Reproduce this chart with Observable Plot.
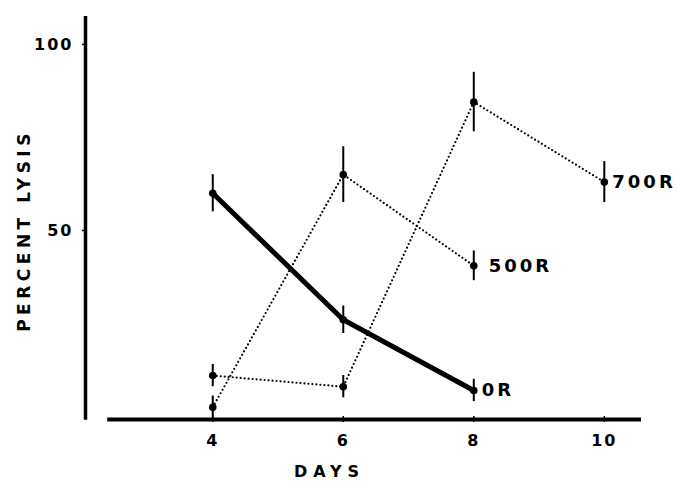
<!DOCTYPE html>
<html>
<head>
<meta charset="utf-8">
<script src="https://cdn.jsdelivr.net/npm/d3@7"></script>
<script src="https://cdn.jsdelivr.net/npm/@observablehq/plot@0.6"></script>
<style>
  html, body { margin: 0; padding: 0; background: #fff; }
  #chart svg { display: block; }
</style>
</head>
<body>
<div id="chart"></div>
<script>
// Days after irradiation at which lysis was measured
const days = [4, 6, 8, 10];
const doses = ["0R", "500R", "700R"];

// Percent lysis (mean) and error half-width per dose
const lysis0R = [60, 26, 7];
const err0R = [5, 3.7, 3];
const lysis500R = [2.5, 65, 40.5];
const err500R = [3, 7.5, 4];
const lysis700R = [11, 8, 84.5, 63];
const err700R = [3, 3, 8, 5.5];

const xTicks = [4, 6, 8, 10];
const yTicks = [50, 100];
const xDomain = [2.05, 10.57];
const yDomain = [0, 107.5];

function rows(dose, values, errs) {
  return values.map((v, i) => ({dose, day: days[i], value: v, err: errs[i]}));
}
const r0 = rows(doses[0], lysis0R, err0R);
const r500 = rows(doses[1], lysis500R, err500R);
const r700 = rows(doses[2], lysis700R, err700R);
const all = [...r0, ...r500, ...r700];

const ink = "#000";
const font = "'DejaVu Sans', Verdana, sans-serif";

const dotted = {strokeWidth: 2.2, strokeDasharray: "0,4", strokeLinecap: "round", stroke: ink};
const doseLabel = {x: "day", y: "value", text: "dose", textAnchor: "start", fontSize: 18, fontWeight: "bold", fill: ink};

const chart = Plot.plot({
  width: 678,
  height: 483,
  marginLeft: 85,
  marginRight: 37,
  marginTop: 16,
  marginBottom: 67,
  x: {domain: xDomain},
  y: {domain: yDomain},
  style: {fontFamily: font, fontWeight: "bold", fontSize: "16px", color: ink, background: "#fff"},
  marks: [
    // axis lines
    Plot.ruleX([xDomain[0]], {y1: -1, y2: yDomain[1], strokeWidth: 3.5, stroke: ink}),
    Plot.ruleY([-0.8], {x1: 2.39, x2: xDomain[1], strokeWidth: 4, stroke: ink}),
    Plot.axisX({ticks: xTicks, tickSize: 6, tickPadding: 12, strokeWidth: 1.5, label: null, fontSize: 16, fontWeight: "bold"}),
    Plot.axisY({ticks: yTicks, tickSize: 3, tickPadding: 9, strokeWidth: 1.5, label: null, fontSize: 16, fontWeight: "bold"}),
    // axis titles
    Plot.text(["PERCENT LYSIS"], {frameAnchor: "left", textAnchor: "middle", y: [50], dx: -61, rotate: -90, fontSize: 17, fontWeight: "bold", fill: ink}),
    Plot.text(["DAYS"], {frameAnchor: "bottom", textAnchor: "middle", dx: -34, dy: 60, fontSize: 16, fontWeight: "bold", fill: ink}),
    // series lines
    Plot.line(r700, {x: "day", y: "value", ...dotted}),
    Plot.line(r500, {x: "day", y: "value", ...dotted}),
    Plot.line(r0, {x: "day", y: "value", strokeWidth: 5, stroke: ink}),
    // error bars
    Plot.ruleX(all, {x: "day", y1: d => d.value - d.err, y2: d => d.value + d.err, strokeWidth: 2, stroke: ink}),
    // means
    Plot.dot(all, {x: "day", y: "value", r: 3.8, fill: ink}),
    // dose labels at the last point of each series
    Plot.text([r0[r0.length - 1]], {...doseLabel, dx: 8}),
    Plot.text([r500[r500.length - 1]], {...doseLabel, dx: 15}),
    Plot.text([r700[r700.length - 1]], {...doseLabel, dx: 8})
  ]
});

// wide letter spacing on axis text, titles and dose labels
chart.querySelectorAll("g[aria-label='x-axis tick label'] text, g[aria-label='y-axis tick label'] text").forEach(t => t.style.letterSpacing = "2px");
chart.querySelectorAll("g[aria-label='text'] text").forEach(t => {
  const s = t.textContent;
  if (s === "DAYS") t.style.letterSpacing = "6px";
  else if (s === "PERCENT LYSIS") t.style.letterSpacing = "4.5px";
  else if (doses.includes(s)) t.style.letterSpacing = "3px";
});

document.getElementById("chart").appendChild(chart);
</script>
</body>
</html>
